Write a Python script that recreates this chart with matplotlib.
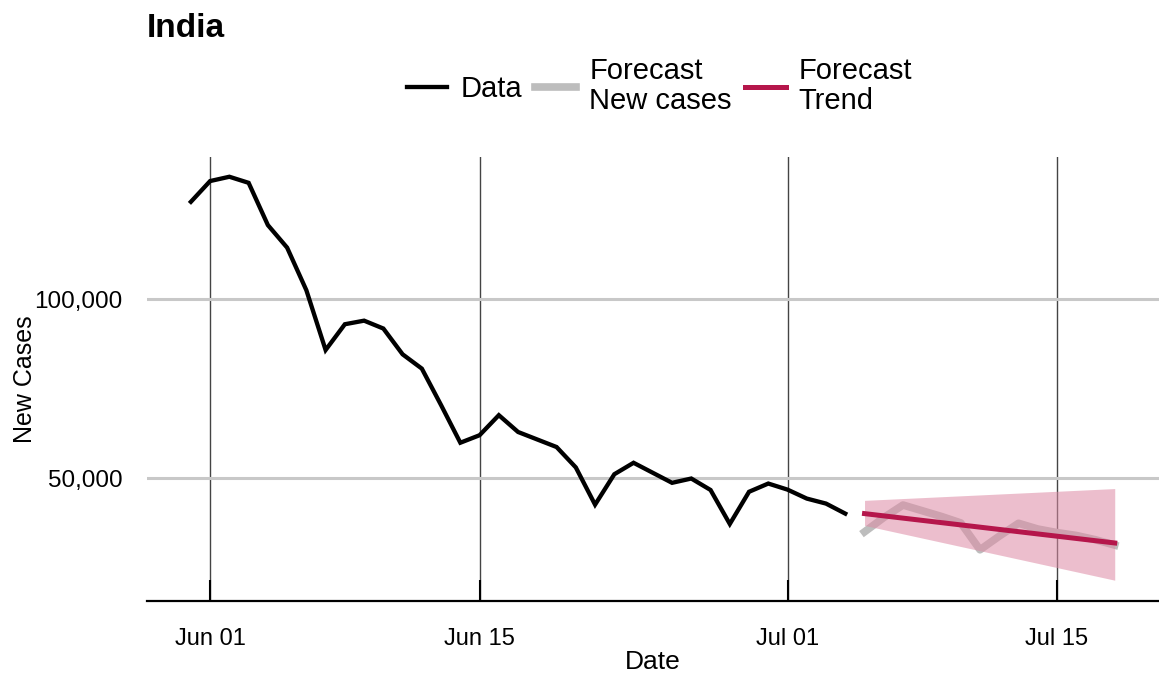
import numpy as np
import pandas as pd
import matplotlib.pyplot as plt
import matplotlib.dates as mdates
from matplotlib.ticker import FuncFormatter

plt.rcParams['font.family'] = ['Liberation Sans', 'DejaVu Sans']

# Daily new cases, May 31 - Jul 04
data_dates = pd.date_range('2021-05-31', '2021-07-04', freq='D')
data_cases = [127200, 133000, 134200, 132500, 120700, 114400, 102500, 85800,
              93000, 94000, 91800, 84600, 80600, 70400, 59900, 62000, 67600,
              62900, 60800, 58700, 53000, 42600, 51100, 54300, 51500, 48700,
              49900, 46700, 37200, 46200, 48500, 46800, 44300, 42900, 40100]

# Forecast of daily new cases, Jul 05 - Jul 18
fc_dates = pd.date_range('2021-07-05', '2021-07-18', freq='D')
fc_cases = [35000, 39000, 42500, 40900, 39300, 37500, 30000, 33800,
            37400, 35800, 34800, 34000, 32800, 31300]

# Forecast trend and its interval at the ends of the horizon
trend_dates = pd.to_datetime(['2021-07-05', '2021-07-18'])
trend_cases = [40100, 31900]
band_upper = [43800, 47100]
band_lower = [36800, 21500]

fig = plt.figure(figsize=(11.59, 6.77), dpi=100)
ax = fig.add_axes([0.127, 0.112, 0.873, 0.656])

ax.plot(data_dates, data_cases, color='black', lw=3.1, zorder=4,
        solid_joinstyle='miter', label='Data')
ax.plot(fc_dates, fc_cases, color='#bdbdbd', lw=5.5, zorder=2,
        label='Forecast\nNew cases')
ax.fill_between(trend_dates, band_lower, band_upper, color='#dd8aa4',
                alpha=0.55, linewidth=0, zorder=3)
ax.plot(trend_dates, trend_cases, color='#b5164b', lw=3.6, zorder=5,
        label='Forecast\nTrend')

ax.set_xlim(pd.Timestamp('2021-06-01') - pd.Timedelta(days=3.27),
            pd.Timestamp('2021-06-01') + pd.Timedelta(days=49.3))
ax.set_ylim(15640, 139700)

ticks = pd.to_datetime(['2021-06-01', '2021-06-15', '2021-07-01', '2021-07-15'])
ax.set_xticks(ticks)
ax.xaxis.set_major_formatter(mdates.DateFormatter('%b %d'))
ax.set_yticks([50000, 100000])
ax.yaxis.set_major_formatter(FuncFormatter(lambda v, p: f'{int(v):,}'))

ax.grid(axis='x', color='#444444', lw=1.0, zorder=1)
ax.grid(axis='y', color='#c8c8c8', lw=2.2, zorder=1)
for s in ['top', 'right', 'left']:
    ax.spines[s].set_visible(False)
ax.spines['bottom'].set_linewidth(1.6)
ax.tick_params(axis='x', direction='in', length=15, width=1.5,
               labelsize=17, pad=19)
ax.tick_params(axis='y', length=0, labelsize=17.5, pad=18)

ax.set_xlabel('Date', fontsize=19, labelpad=0)
ax.set_ylabel('New Cases', fontsize=18, labelpad=-2)

fig.text(0.127, 0.958, 'India', fontsize=24, fontweight='bold', va='center')
leg = fig.legend(loc='center', bbox_to_anchor=(0.569, 0.873), ncol=3,
                 frameon=False, fontsize=21, handlelength=1.4,
                 handletextpad=0.45, columnspacing=0.45, labelspacing=0.2)
for t in leg.get_texts():
    t.set_linespacing(1.1)

fig.savefig('out.png', dpi=100)
